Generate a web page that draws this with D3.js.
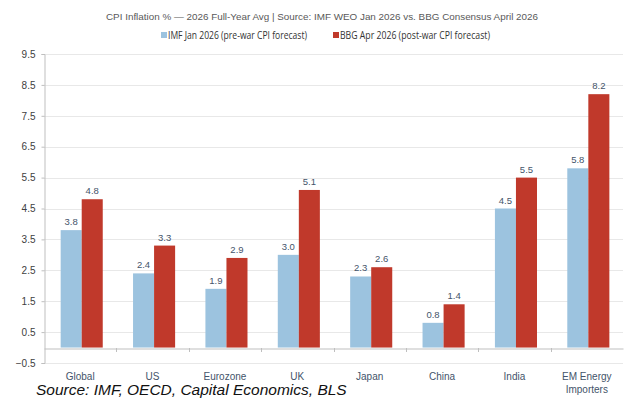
<!DOCTYPE html>
<html>
<head>
<meta charset="utf-8">
<script src="https://cdn.jsdelivr.net/npm/d3@7"></script>
<style>
  body { margin: 0; background: #fff; }
  svg text { font-family: "Liberation Sans", Arial, sans-serif; }
</style>
</head>
<body>
<svg id="chart"></svg>
<script>
// data
const categories = ['Global', 'US', 'Eurozone', 'UK', 'Japan', 'China', 'India', 'EM Energy|Importers'];
const imfJan = [3.8, 2.4, 1.9, 3.0, 2.3, 0.8, 4.5, 5.8];
const bbgApr = [4.8, 3.3, 2.9, 5.1, 2.6, 1.4, 5.5, 8.2];
const seriesNames = ['IMF Jan 2026 (pre-war CPI forecast)', 'BBG Apr 2026 (post-war CPI forecast)'];
const yTicks = [-0.5, 0.5, 1.5, 2.5, 3.5, 4.5, 5.5, 6.5, 7.5, 8.5, 9.5];

const W = 627, H = 398;
const m = { left: 44, right: 4, top: 54, bottom: 35 };
const colors = ['#9cc3df', '#c0392b'];

const svg = d3.select('#chart').attr('width', W).attr('height', H);

const x = d3.scaleBand().domain(categories).range([m.left, W - m.right]);
const x1 = d3.scaleBand().domain([0, 1]).range([0, x.bandwidth()]).paddingInner(0).paddingOuter(0.72).align(0.55);
const y = d3.scaleLinear().domain([-0.5, 9.5]).range([H - m.bottom, m.top]);

// title
svg.append('text')
  .attr('x', 106).attr('y', 20)
  .attr('font-size', 9.8).attr('fill', '#595959')
  .attr('textLength', 432).attr('lengthAdjust', 'spacingAndGlyphs')
  .text('CPI Inflation % \u2014 2026 Full-Year Avg  |  Source: IMF WEO Jan 2026 vs. BBG Consensus April 2026');

// legend
const legendX = [161, 333];
const legendLen = [139, 150];
seriesNames.forEach((s, i) => {
  svg.append('rect').attr('x', legendX[i]).attr('y', 32).attr('width', 6).attr('height', 6).attr('fill', colors[i]);
  svg.append('text')
    .attr('x', legendX[i] + 7).attr('y', 38.5)
    .attr('font-size', 10.5).attr('fill', '#333')
    .attr('textLength', legendLen[i]).attr('lengthAdjust', 'spacingAndGlyphs')
    .style('font-family', '"Open Sans", "Noto Sans", sans-serif')
    .text(s);
});

// gridlines
svg.append('g')
  .selectAll('line')
  .data(yTicks)
  .join('line')
  .attr('x1', m.left).attr('x2', W - m.right)
  .attr('y1', d => Math.round(y(d)) + 0.5).attr('y2', d => Math.round(y(d)) + 0.5)
  .attr('stroke', '#e8e8e8');

// y axis
const yAxis = svg.append('g')
  .attr('transform', `translate(${m.left + 0.5},0)`)
  .call(d3.axisLeft(y).tickValues(yTicks).tickFormat(d3.format('.1f')).tickSize(3).tickPadding(6));
yAxis.select('.domain').attr('stroke', '#bfbfbf');
yAxis.selectAll('.tick line').attr('stroke', '#bfbfbf');
yAxis.selectAll('.tick text').attr('font-size', 10).attr('fill', '#404040')
  .style('font-family', '"Liberation Sans", Arial, sans-serif');

// bars
const groups = svg.append('g')
  .selectAll('g')
  .data(categories)
  .join('g')
  .attr('transform', d => `translate(${x(d)},0)`);

[imfJan, bbgApr].forEach((vals, si) => {
  groups.append('rect')
    .attr('x', (d, i) => x1(si))
    .attr('width', x1.bandwidth())
    .attr('y', (d, i) => y(vals[categories.indexOf(d)]))
    .attr('height', (d) => y(0) - y(vals[categories.indexOf(d)]))
    .attr('fill', colors[si]);
  groups.append('text')
    .attr('x', x1(si) + x1.bandwidth() / 2)
    .attr('y', d => y(vals[categories.indexOf(d)]) - 5)
    .attr('text-anchor', 'middle')
    .attr('font-size', 9.5).attr('fill', '#44546a')
    .text(d => vals[categories.indexOf(d)].toFixed(1));
});

// zero line with category ticks
const xAxis = svg.append('g')
  .attr('transform', `translate(0,${Math.round(y(0)) + 0.5})`)
  .call(d3.axisBottom(x).tickSize(0).tickFormat(''));
xAxis.select('.domain').attr('stroke', '#bfbfbf');
svg.append('g')
  .selectAll('line')
  .data(categories.slice(1))
  .join('line')
  .attr('x1', d => Math.round(x(d)) + 0.5).attr('x2', d => Math.round(x(d)) + 0.5)
  .attr('y1', Math.round(y(0))).attr('y2', Math.round(y(0)) + 4)
  .attr('stroke', '#bfbfbf');

// category labels
svg.append('g')
  .selectAll('text')
  .data(categories)
  .join('text')
  .attr('x', d => x(d) + x.bandwidth() / 2)
  .attr('y', 380)
  .attr('text-anchor', 'middle')
  .attr('font-size', 10).attr('fill', '#44546a')
  .each(function (d) {
    const parts = d.split('|');
    d3.select(this).selectAll('tspan')
      .data(parts)
      .join('tspan')
      .attr('x', x(d) + x.bandwidth() / 2)
      .attr('dy', (p, i) => i === 0 ? 0 : 12.5)
      .text(p => p);
  });

// footnote
svg.append('text')
  .attr('x', 36).attr('y', 395)
  .attr('font-size', 15.5).attr('font-style', 'italic').attr('fill', '#111')
  .text('Source: IMF, OECD, Capital Economics, BLS');
</script>
</body>
</html>
